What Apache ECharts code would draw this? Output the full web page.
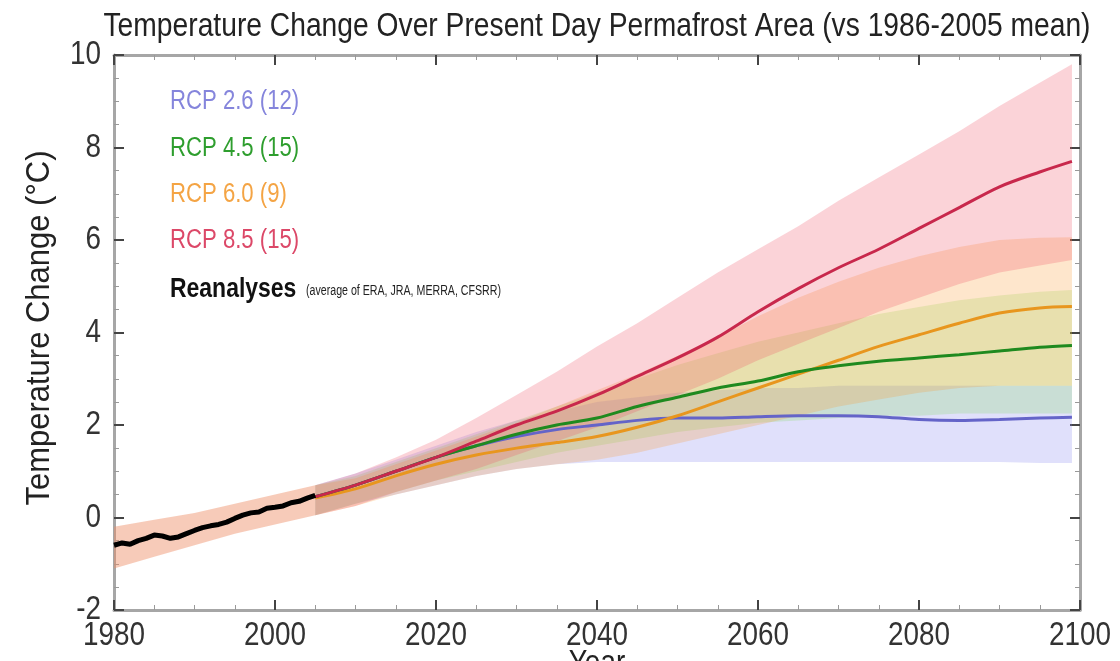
<!DOCTYPE html>
<html>
<head>
<meta charset="utf-8">
<script src="https://cdn.jsdelivr.net/npm/echarts@6/dist/echarts.min.js"></script>
<style>
html,body{margin:0;padding:0;background:#fff;}
#chart{width:1120px;height:661px;}
</style>
</head>
<body>
<div id="chart"></div>
<script>
// ---------------- DATA ----------------
const xTicks = [1980, 2000, 2020, 2040, 2060, 2080, 2100];
const yTicks = [-2, 0, 2, 4, 6, 8, 10];

// Reanalyses (average of ERA, JRA, MERRA, CFSRR), yearly
const reanYears = [1980,1981,1982,1983,1984,1985,1986,1987,1988,1989,1990,1991,1992,1993,1994,1995,1996,1997,1998,1999,2000,2001,2002,2003,2004,2005];
const reanValues = [-0.6,-0.55,-0.58,-0.5,-0.45,-0.38,-0.4,-0.45,-0.42,-0.35,-0.28,-0.22,-0.18,-0.15,-0.1,-0.02,0.05,0.1,0.12,0.2,0.22,0.25,0.32,0.35,0.42,0.48];

// Historical model spread
const histYears = [1980,1985,1990,1995,2000,2005];
const histLow  = [-1.1,-0.85,-0.6,-0.35,-0.15,0.05];
const histHigh = [-0.2,-0.05,0.1,0.3,0.5,0.7];

// Scenario projections
const futYears = [2005,2010,2015,2020,2025,2030,2035,2040,2045,2050,2055,2060,2065,2070,2075,2080,2085,2090,2095,2099];

const rcp26Mean = [0.45,0.7,1.0,1.3,1.55,1.75,1.9,2.0,2.1,2.15,2.15,2.18,2.2,2.2,2.18,2.12,2.1,2.12,2.15,2.17];
const rcp26Low  = [0.05,0.3,0.5,0.7,0.9,1.05,1.15,1.2,1.2,1.2,1.2,1.2,1.2,1.2,1.2,1.2,1.2,1.2,1.18,1.18];
const rcp26High = [0.7,0.95,1.25,1.55,1.85,2.1,2.3,2.5,2.6,2.7,2.75,2.8,2.8,2.85,2.85,2.85,2.85,2.85,2.85,2.85];

const rcp45Mean = [0.45,0.7,1.0,1.3,1.55,1.8,2.0,2.15,2.4,2.6,2.8,2.95,3.15,3.28,3.38,3.45,3.52,3.6,3.68,3.72];
const rcp45Low  = [0.05,0.3,0.55,0.8,1.0,1.2,1.4,1.55,1.7,1.85,1.95,2.05,2.1,2.15,2.2,2.2,2.25,2.25,2.25,2.25];
const rcp45High = [0.7,0.9,1.2,1.5,1.8,2.1,2.4,2.7,3.0,3.3,3.55,3.8,4.0,4.2,4.4,4.55,4.7,4.8,4.88,4.92];

const rcp60Mean = [0.42,0.62,0.9,1.15,1.35,1.5,1.62,1.75,1.95,2.2,2.5,2.8,3.1,3.4,3.7,3.95,4.2,4.42,4.53,4.56];
const rcp60Low  = [0.05,0.25,0.5,0.7,0.9,1.05,1.15,1.25,1.4,1.6,1.8,2.0,2.2,2.4,2.55,2.7,2.8,2.85,2.85,2.85];
const rcp60High = [0.7,0.85,1.15,1.45,1.75,2.05,2.4,2.75,3.1,3.5,3.9,4.35,4.75,5.1,5.4,5.65,5.85,6.0,6.05,6.06];

const rcp85Mean = [0.45,0.7,1.0,1.3,1.65,2.0,2.3,2.65,3.05,3.45,3.9,4.45,4.95,5.4,5.8,6.25,6.7,7.15,7.47,7.7];
const rcp85Low  = [0.05,0.25,0.55,0.8,1.05,1.35,1.65,1.95,2.3,2.65,3.0,3.4,3.75,4.1,4.45,4.75,5.05,5.3,5.45,5.57];
const rcp85High = [0.7,0.95,1.3,1.68,2.15,2.65,3.15,3.7,4.2,4.75,5.3,5.8,6.3,6.85,7.35,7.85,8.35,8.9,9.4,9.8];

const legendNames = ['RCP 2.6 (12)', 'RCP 4.5 (15)', 'RCP 6.0 (9)', 'RCP 8.5 (15)', 'Reanalyses'];
const legendNote = '(average of ERA, JRA, MERRA, CFSRR)';
const titleText = 'Temperature Change Over Present Day Permafrost Area (vs 1986-2005 mean)';
const xName = 'Year';
const yName = 'Temperature Change (°C)';

// ---------------- STYLE ----------------
const FONT = "'Liberation Sans', Arial, Helvetica, sans-serif";
const NARROW = 0.82;
const lineColors = ['#6464c8', '#1f8a1f', '#e8961e', '#c8284c', '#000000'];
const legendColors = ['#8585dc', '#2e9e2e', '#f4a444', '#dc4868', '#111111'];
const bandColors = {
  hist: 'rgba(238,140,100,0.45)',
  rcp85: 'rgba(240,80,100,0.25)',
  rcp60: 'rgba(250,150,40,0.24)',
  rcp45: 'rgba(120,215,70,0.21)',
  rcp26: 'rgba(130,130,240,0.25)'
};

function pairs(xs, ys) { return xs.map((x, i) => [x, ys[i]]); }

function band(xs, low, high, color) {
  return {
    type: 'custom', silent: true, z: 1, clip: true,
    data: xs.map((x, i) => [x, low[i], high[i]]),
    encode: { x: 0, y: [1, 2] },
    renderItem: function (params, api) {
      if (params.dataIndex !== 0) return null;
      const pts = [];
      for (let i = 0; i < xs.length; i++) pts.push(api.coord([xs[i], high[i]]));
      for (let i = xs.length - 1; i >= 0; i--) pts.push(api.coord([xs[i], low[i]]));
      return { type: 'polygon', shape: { points: pts }, style: { fill: color, stroke: null } };
    }
  };
}

function meanLine(name, xs, ys, color, width) {
  return {
    type: 'line', name: name, data: pairs(xs, ys), showSymbol: false, symbol: 'none',
    lineStyle: { color: color, width: width }, smooth: 0.3, z: 5
  };
}

const series = [
  band(histYears, histLow, histHigh, bandColors.hist),
  band(futYears, rcp26Low, rcp26High, bandColors.rcp26),
  band(futYears, rcp45Low, rcp45High, bandColors.rcp45),
  band(futYears, rcp60Low, rcp60High, bandColors.rcp60),
  band(futYears, rcp85Low, rcp85High, bandColors.rcp85),
  meanLine(legendNames[0], futYears, rcp26Mean, lineColors[0], 3),
  meanLine(legendNames[2], futYears, rcp60Mean, lineColors[2], 3),
  meanLine(legendNames[1], futYears, rcp45Mean, lineColors[1], 3),
  meanLine(legendNames[3], futYears, rcp85Mean, lineColors[3], 3),
  Object.assign(meanLine(legendNames[4], reanYears, reanValues, lineColors[4], 5), { smooth: false, z: 6 })
];

const axisLineStyle = { color: '#a6a6a6', width: 3 };
const tickStyle = { color: '#444', width: 2 };
const minorStyle = { color: '#999', width: 1 };

function xAxisDef(pos) {
  return {
    type: 'value', min: xTicks[0], max: xTicks[xTicks.length - 1], interval: 20, position: pos,
    axisLine: { show: true, onZero: false, lineStyle: axisLineStyle },
    axisTick: { show: true, inside: true, length: 10, lineStyle: tickStyle },
    minorTick: { show: true, splitNumber: 4, length: 5, lineStyle: minorStyle },
    axisLabel: { show: false }, splitLine: { show: false }
  };
}
function yAxisDef(pos) {
  return {
    type: 'value', min: yTicks[0], max: yTicks[yTicks.length - 1], interval: 2, position: pos,
    axisLine: { show: true, onZero: false, lineStyle: axisLineStyle },
    axisTick: { show: true, inside: true, length: 10, lineStyle: tickStyle },
    minorTick: { show: true, splitNumber: 4, length: 5, lineStyle: minorStyle },
    axisLabel: { show: false }, splitLine: { show: false }
  };
}

const option = {
  backgroundColor: '#ffffff',
  animation: false,
  grid: { left: 114, right: 40, top: 55, bottom: 51, containLabel: false },
  xAxis: [xAxisDef('bottom'), xAxisDef('top')],
  yAxis: [yAxisDef('left'), yAxisDef('right')],
  series: series
};

const chart = echarts.init(document.getElementById('chart'), null, { renderer: 'canvas' });
chart.setOption(option);

// ---------- narrow-style text (scaled horizontally) ----------
const mctx = document.createElement('canvas').getContext('2d');
function textWidth(t, font) { mctx.font = font; return mctx.measureText(t).width; }
function ntext(t, x, y, font, fill, align, opts) {
  return Object.assign({
    type: 'text', x: x, y: y, scaleX: NARROW, silent: true, z: 100,
    style: { text: t, font: font, fill: fill, align: align || 'left', verticalAlign: 'middle' }
  }, opts || {});
}

const g = [];
const titleFont = '33px ' + FONT;
g.push({
  type: 'text', x: 597, y: 27, scaleX: 987 / textWidth(titleText, titleFont), silent: true,
  style: { text: titleText, font: titleFont, fill: '#222', align: 'center', verticalAlign: 'middle' }
});
const yNameFont = '33px ' + FONT;
g.push({
  type: 'text', x: 40, y: 328, rotation: Math.PI / 2, scaleX: 355 / textWidth(yName, yNameFont), silent: true,
  style: { text: yName, font: yNameFont, fill: '#222', align: 'center', verticalAlign: 'middle' }
});
g.push(ntext(xName, 597, 664, '34px ' + FONT, '#222', 'center'));
xTicks.forEach(v => {
  const px = chart.convertToPixel({ xAxisIndex: 0 }, v);
  g.push(ntext(String(v), px, 636, '34px ' + FONT, '#333', 'center'));
});
yTicks.forEach(v => {
  const py = chart.convertToPixel({ yAxisIndex: 0 }, v);
  g.push(ntext(String(v), 101, py, '34px ' + FONT, '#333', 'right'));
});
const legendY = [102, 149, 195, 241, 289];
legendNames.forEach((n, i) => {
  g.push(ntext(n, 170, legendY[i], (i === 4 ? 'bold 28px ' : '27px ') + FONT, legendColors[i], 'left'));
});
const noteFont = '14px ' + FONT;
g.push({
  type: 'text', x: 306, y: legendY[4] + 2, scaleX: 195 / textWidth(legendNote, noteFont), silent: true,
  style: { text: legendNote, font: noteFont, fill: '#222', align: 'left', verticalAlign: 'middle' }
});

chart.setOption({ graphic: g });
</script>
</body>
</html>
